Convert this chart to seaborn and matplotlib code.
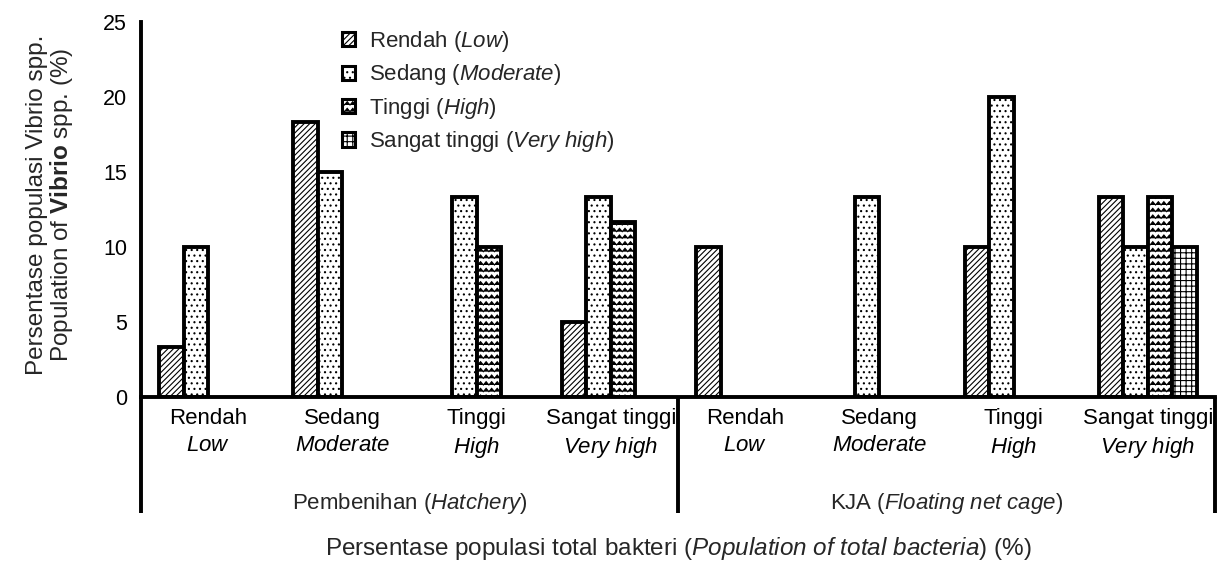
import warnings

import matplotlib
matplotlib.use("Agg")
import matplotlib.hatch as mhatch
import matplotlib.pyplot as plt
import numpy as np
import pandas as pd
import seaborn as sns
from matplotlib.patches import Patch
from matplotlib.path import Path

warnings.filterwarnings("ignore", message="hatch must consist")

levels = ["Rendah", "Sedang", "Tinggi", "Sangat tinggi"]
levels_en = ["Low", "Moderate", "High", "Very high"]
sites = ["Pembenihan", "KJA"]
sites_en = ["Hatchery", "Floating net cage"]

# rows: total bacteria class, columns: Vibrio class (NaN = no bar)
hatchery_values = [
    [3.33, 10.0, np.nan, np.nan],
    [18.33, 15.0, np.nan, np.nan],
    [np.nan, 13.33, 10.0, np.nan],
    [5.0, 13.33, 11.67, np.nan],
]
kja_values = [
    [10.0, np.nan, np.nan, np.nan],
    [np.nan, 13.33, np.nan, np.nan],
    [10.0, 20.0, np.nan, np.nan],
    [13.33, 10.0, 13.33, 10.0],
]

hatches = ["//////", "...", "~~", "+++"]


class WaveHatch(mhatch.HatchPatternBase):
    """zigzag lines for '~' (no built-in wavy hatch)"""

    def __init__(self, hatch, density):
        self.num_rows = int(hatch.count("~") * density * 1.25)
        self.num_waves = 18
        self.per_row = 2 * self.num_waves + 1
        self.num_vertices = self.num_rows * self.per_row

    def set_vertices_and_codes(self, vertices, codes):
        xs = np.linspace(0.0, 1.0, self.per_row)
        amp = 0.25 / self.num_rows
        sign = np.where(np.arange(self.per_row) % 2 == 0, -1.0, 1.0)
        for i in range(self.num_rows):
            y0 = (i + 0.5) / self.num_rows
            sl = slice(i * self.per_row, (i + 1) * self.per_row)
            vertices[sl, 0] = xs
            vertices[sl, 1] = y0 + amp * sign
            codes[sl] = Path.LINETO
            codes[i * self.per_row] = Path.MOVETO


mhatch._hatch_types.append(WaveHatch)


def it(s):
    return r"$\mathit{" + s.replace(" ", r"\ ") + "}$"


rows = []
for site, table in zip(sites, [hatchery_values, kja_values]):
    for bact, vals in zip(levels, table):
        for vib, v in zip(levels, vals):
            rows.append({"group": f"{site} {bact}", "vibrio": vib, "value": v})
df = pd.DataFrame(rows).dropna()
order = [f"{s} {b}" for s in sites for b in levels]

sns.set_theme(style="white")
plt.rcParams["font.family"] = ["Liberation Sans", "DejaVu Sans"]
plt.rcParams["mathtext.fontset"] = "custom"
plt.rcParams["mathtext.rm"] = "Liberation Sans"
plt.rcParams["mathtext.it"] = "Liberation Sans:italic"
plt.rcParams["mathtext.bf"] = "Liberation Sans:bold"
plt.rcParams["hatch.linewidth"] = 0.8

fig = plt.figure(figsize=(12.17, 5.69), dpi=100)
ax = fig.add_axes([141 / 1217, 1 - 397 / 569, 1074 / 1217, 375 / 569])

sns.barplot(
    data=df, x="group", y="value", hue="vibrio",
    order=order, hue_order=levels, width=0.73, errorbar=None,
    palette={lv: "white" for lv in levels},
    edgecolor="black", linewidth=2.8, legend=False, ax=ax
)
for cont, h in zip(ax.containers, hatches):
    for bar in cont:
        bar.set_hatch(h)

ax.set_xlim(-0.5, 7.5)
ax.set_ylim(0, 25)
ax.set_yticks(range(0, 26, 5))
ax.tick_params(axis="y", length=0, pad=10, labelsize=15.5, colors="black")
ax.tick_params(axis="x", length=0, pad=8, labelsize=16, colors="black")
ax.set_xticks(range(len(order)))
ax.set_xticklabels([f"{b}\n{it(e)}" for _ in sites for b, e in zip(levels, levels_en)],
                   linespacing=1.35)
ax.set_ylabel("")

sns.despine(ax=ax)
for side in ["left", "bottom"]:
    ax.spines[side].set_linewidth(2.8)
    ax.spines[side].set_color("black")

# group separators and site labels below the category axis
trans = ax.get_xaxis_transform()
for xv in [-0.5, 3.5, 7.5]:
    ax.plot([xv, xv], [0, -0.31], transform=trans, color="black", lw=2.8,
            clip_on=False, solid_capstyle="butt")
for k, (s, e) in enumerate(zip(sites, sites_en)):
    ax.text(1.5 + 4 * k, -0.285, f"{s} ({it(e)})", transform=trans,
            ha="center", va="center", fontsize=16)

ax.set_xlabel(f"Persentase populasi total bakteri ({it('Population of total bacteria')}) (%)",
              fontsize=17.5)
ax.xaxis.set_label_coords(0.5, -0.403)
ax.xaxis.label.set_verticalalignment("center")

fig.text(37 / 1217, 1 - 205 / 569, "Persentase populasi Vibrio spp.",
         rotation=90, ha="center", va="center", fontsize=17.5)
fig.text(62 / 1217, 1 - 205 / 569, r"Population of $\mathbf{Vibrio}$ spp. (%)",
         rotation=90, ha="center", va="center", fontsize=17.5)

handles = [Patch(facecolor="white", edgecolor="black", linewidth=2.2, hatch=h) for h in hatches]
labels = [f"{b} ({it(e)})" for b, e in zip(levels, levels_en)]
ax.legend(handles, labels, loc="upper left", bbox_to_anchor=(342 / 1217, 1 - 29 / 569),
          bbox_transform=fig.transFigure, frameon=False, fontsize=16,
          handlelength=0.6, handleheight=0.6, handletextpad=0.6,
          labelspacing=0.38, borderpad=0, borderaxespad=0)

fig.savefig("out.png", dpi=100)
